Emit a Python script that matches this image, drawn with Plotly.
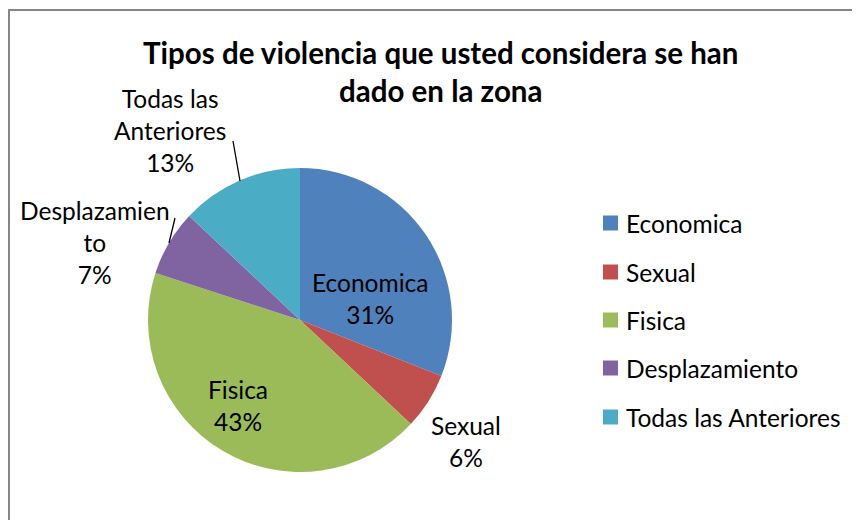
import plotly.graph_objects as go

# Data
categories = ["Economica", "Sexual", "Fisica", "Desplazamiento", "Todas las Anteriores"]
values = [31, 6, 43, 7, 13]
colors = ["#4F81BD", "#C0504D", "#9BBB59", "#8064A2", "#4BACC6"]
title_text = "Tipos de violencia que usted considera se han<br>dado en la zona"
# label texts as shown (wrapped like the original)
label_names = ["Economica", "Sexual", "Fisica", "Desplazamien<br>to", "Todas las<br>Anteriores"]

W, H = 860, 520
OFF = 8  # page offset of the figure in the browser window
FONT = "Lato, Carlito, Calibri, sans-serif"


def px(x):
    return (x - OFF) / W


def py(y):
    return 1 - (y - OFF) / H


fig = go.Figure()
fig.add_trace(go.Pie(
    labels=categories,
    values=values,
    marker=dict(colors=colors, line=dict(width=0)),
    sort=False,
    direction="clockwise",
    rotation=0,
    textinfo="none",
    hoverinfo="label+percent",
    showlegend=False,
    domain=dict(x=[px(148), px(452)], y=[py(472), py(168)]),
))

total = sum(values)
pcts = [round(v * 100 / total) for v in values]

# label layout positions (pixels) and leader lines
label_pos = [(370, 298), (466, 441), (238, 405), (95, 243), (170, 130)]
leaders = [None, None, None, ((175, 218), (169, 243)), ((233, 141), (240, 181))]

annotations = []
shapes = []
for name, p, pos, ld in zip(label_names, pcts, label_pos, leaders):
    annotations.append(dict(
        x=px(pos[0]), y=py(pos[1]), xref="paper", yref="paper",
        text=f"{name}<br>{p}%", showarrow=False,
        font=dict(family=FONT, size=24.5, color="#000000"),
        align="center", xanchor="center", yanchor="middle",
    ))
    if ld:
        (x0, y0), (x1, y1) = ld
        shapes.append(dict(type="line", xref="paper", yref="paper",
                           x0=px(x0), y0=py(y0), x1=px(x1), y1=py(y1),
                           line=dict(color="#000000", width=1.3)))

# title
annotations.append(dict(
    x=px(440), y=py(71), xref="paper", yref="paper",
    text=f"<b>{title_text}</b>", showarrow=False,
    font=dict(family=FONT, size=29.5, color="#000000"),
    align="center", xanchor="center", yanchor="middle",
))

# manual legend
leg_y = [223, 272, 320, 368, 417]
for cat, col, yy in zip(categories, colors, leg_y):
    shapes.append(dict(type="rect", xref="paper", yref="paper",
                       x0=px(603), x1=px(618), y0=py(yy - 7.5), y1=py(yy + 7.5),
                       fillcolor=col, line=dict(width=0)))
    annotations.append(dict(
        x=px(624), y=py(yy), xref="paper", yref="paper",
        text=cat, showarrow=False,
        font=dict(family=FONT, size=24.5, color="#000000"),
        xanchor="left", yanchor="middle",
    ))

# chart border (cropped on right/bottom)
shapes.append(dict(type="rect", xref="paper", yref="paper",
                   x0=px(9), y0=py(10), x1=px(W + 20), y1=py(H + 20),
                   line=dict(color="#868686", width=2), fillcolor="rgba(0,0,0,0)"))

fig.update_layout(
    width=W, height=H,
    margin=dict(l=0, r=0, t=0, b=0),
    paper_bgcolor="white", plot_bgcolor="white",
    annotations=annotations, shapes=shapes,
    showlegend=False,
)

fig.write_html("out.html")
